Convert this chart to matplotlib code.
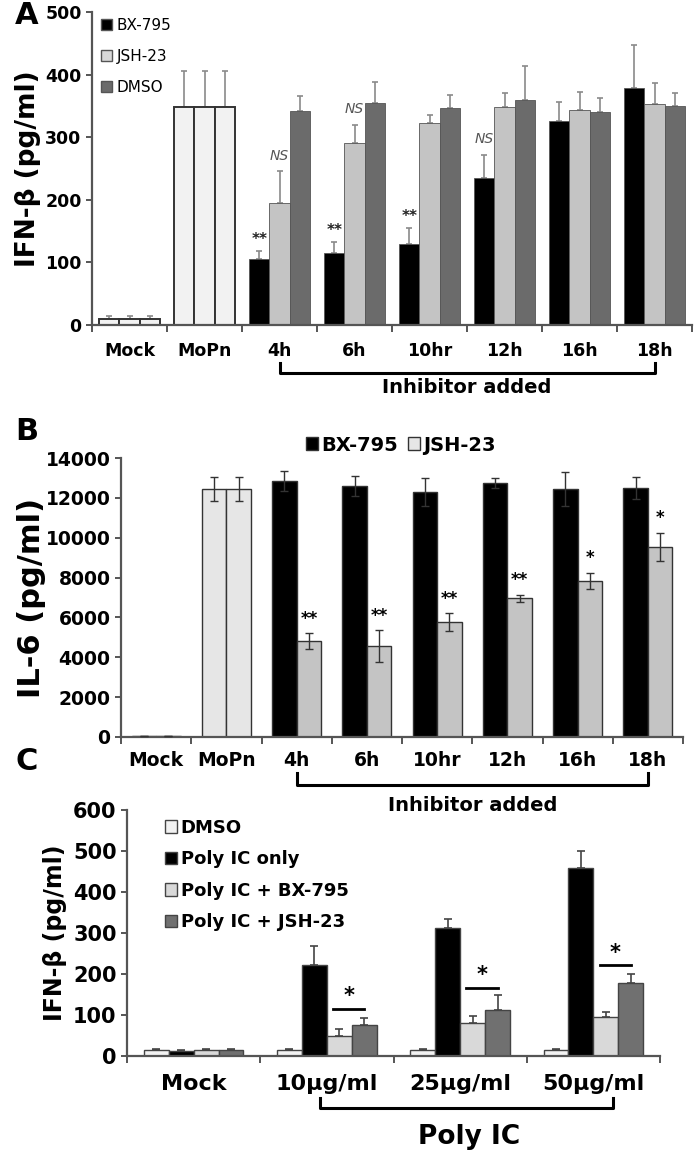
import numpy as np
import matplotlib
matplotlib.use('Agg')
import matplotlib.pyplot as plt
from matplotlib.transforms import blended_transform_factory
from matplotlib.patches import Patch

# ---------------- data ----------------
a_categories = ['Mock', 'MoPn', '4h', '6h', '10hr', '12h', '16h', '18h']
a_bx = [10, 348, 105, 115, 130, 235, 326, 378]
a_bx_err = [5, 57, 13, 17, 25, 37, 31, 69]
a_jsh = [10, 348, 195, 290, 322, 349, 343, 353]
a_jsh_err = [5, 57, 51, 30, 14, 22, 30, 33]
a_dmso = [10, 348, 342, 355, 347, 360, 340, 350]
a_dmso_err = [5, 57, 24, 33, 20, 54, 23, 20]
a_yticks = [0, 100, 200, 300, 400, 500]
a_bx_marks = ['', '', '**', '**', '**', 'NS', '', '']
a_jsh_marks = ['', '', 'NS', 'NS', '', '', '', '']

b_categories = ['Mock', 'MoPn', '4h', '6h', '10hr', '12h', '16h', '18h']
b_bx = [30, 12450, 12850, 12600, 12300, 12750, 12450, 12500]
b_bx_err = [0, 600, 500, 500, 700, 250, 850, 550]
b_jsh = [30, 12450, 4800, 4550, 5750, 6950, 7850, 9550]
b_jsh_err = [0, 600, 400, 800, 450, 200, 400, 700]
b_yticks = [0, 2000, 4000, 6000, 8000, 10000, 12000, 14000]
b_jsh_marks = ['', '', '**', '**', '**', '**', '*', '*']

c_categories = ['Mock', '10μg/ml', '25μg/ml', '50μg/ml']
c_dmso = [15, 15, 15, 15]
c_dmso_err = [3, 3, 3, 3]
c_polyic = [12, 222, 312, 458]
c_polyic_err = [3, 47, 23, 42]
c_bx = [15, 48, 80, 95]
c_bx_err = [3, 17, 18, 12]
c_jsh = [15, 75, 112, 178]
c_jsh_err = [3, 17, 36, 22]
c_sig_levels = [None, 115, 166, 222]
c_yticks = [0, 100, 200, 300, 400, 500, 600]

W, H = 700, 1156
fig = plt.figure(figsize=(W / 100, H / 100), dpi=100)
plt.rcParams['font.family'] = ['DejaVu Sans']


def ax_rect(left, right, top, bottom):
    return [left / W, 1 - bottom / H, (right - left) / W, (bottom - top) / H]


def style_axis(ax, n, xfs, yfs, pad):
    ax.patch.set_visible(False)
    for s in ['top', 'right']:
        ax.spines[s].set_visible(False)
    for s in ['left', 'bottom']:
        ax.spines[s].set_color('#555555')
        ax.spines[s].set_linewidth(1.6)
    ax.set_xlim(-0.5, n - 0.5)
    ax.set_xticks(np.arange(n))
    ax.set_xticks(np.arange(n + 1) - 0.5, minor=True)
    ax.tick_params(axis='x', which='major', length=0, pad=pad, labelsize=xfs)
    ax.tick_params(axis='x', which='minor', length=5, width=1.4, color='#555555', direction='out')
    ax.tick_params(axis='y', length=4, width=1.4, color='#555555', labelsize=yfs)
    for lab in ax.get_xticklabels() + ax.get_yticklabels():
        lab.set_fontweight('bold')


def bracket(ax, x0, x1, ytop, ybot, lw=2.2):
    tr = blended_transform_factory(ax.transData, ax.transAxes)
    ax.plot([x0, x0, x1, x1], [ytop, ybot, ybot, ytop], color='black', lw=lw,
            transform=tr, clip_on=False, solid_joinstyle='round')


# ---------------- Panel A ----------------
axA = fig.add_axes(ax_rect(92, 692, 12, 325))
n = len(a_categories)
x = np.arange(n)
w = 0.27
light = '#f2f2f2'
colsA = [('black', a_bx, a_bx_err), ('#c4c4c4', a_jsh, a_jsh_err), ('#6b6b6b', a_dmso, a_dmso_err)]
for k, (col, vals, errs) in enumerate(colsA):
    xs = x + (k - 1) * w
    fc = [light if i < 2 else col for i in range(n)]
    ec = ['#333333' if i < 2 else '#555555' for i in range(n)]
    lw = [1.4 if i < 2 else 0.6 for i in range(n)]
    axA.bar(xs, vals, w, color=fc, edgecolor=ec, linewidth=lw, zorder=2)
    axA.errorbar(xs, vals, yerr=[np.zeros(n), errs], fmt='none', ecolor='#8a8a8a',
                 elinewidth=1.2, capsize=2.5, capthick=1.2, zorder=1)
for i in range(n):
    if a_bx_marks[i]:
        it = a_bx_marks[i] == 'NS'
        axA.annotate(a_bx_marks[i], (x[i] - w, a_bx[i] + a_bx_err[i]), xytext=(0, 3 if not it else 6),
                     textcoords='offset points', ha='center', va='bottom',
                     fontsize=11 if not it else 10, fontweight='bold' if not it else 'normal',
                     style='italic' if it else 'normal', color='#222222' if not it else '#555555')
    if a_jsh_marks[i]:
        axA.annotate(a_jsh_marks[i], (x[i], a_jsh[i] + a_jsh_err[i]), xytext=(0, 6),
                     textcoords='offset points', ha='center', va='bottom',
                     fontsize=10, style='italic', color='#555555')
axA.set_ylim(0, 500)
axA.set_yticks(a_yticks)
axA.set_xticklabels(a_categories)
style_axis(axA, n, 12.5, 12.5, 12)
axA.set_ylabel('IFN-β (pg/ml)', fontsize=19, fontweight='bold', labelpad=3)
handlesA = [Patch(facecolor='black', edgecolor='#555555', label='BX-795'),
            Patch(facecolor='#d9d9d9', edgecolor='#555555', label='JSH-23'),
            Patch(facecolor='#6b6b6b', edgecolor='#555555', label='DMSO')]
axA.legend(handles=handlesA, loc='upper left', bbox_to_anchor=(0.0, 1.01), frameon=False,
           fontsize=11, handlelength=0.7, handleheight=0.7, handletextpad=0.3, labelspacing=1.05,
           borderaxespad=0.2)
bracket(axA, 2, 7, -0.12, -0.152)
axA.text(4.5, -0.2, 'Inhibitor added', transform=blended_transform_factory(axA.transData, axA.transAxes),
         ha='center', va='center', fontsize=14, fontweight='bold')

# ---------------- Panel B ----------------
axB = fig.add_axes(ax_rect(121, 683, 458, 737))
n = len(b_categories)
x = np.arange(n)
w = 0.35
for k, (col, vals, errs) in enumerate([('black', b_bx, b_bx_err), ('#c4c4c4', b_jsh, b_jsh_err)]):
    xs = x + (k - 0.5) * w
    fc = ['#e6e6e6' if i < 2 else col for i in range(n)]
    axB.bar(xs, vals, w, color=fc, edgecolor='#333333', linewidth=1.0, zorder=2)
    axB.errorbar(xs, vals, yerr=errs, fmt='none', ecolor='#333333',
                 elinewidth=1.0, capsize=3, capthick=1.0, zorder=3)
for i in range(n):
    if b_jsh_marks[i]:
        axB.annotate(b_jsh_marks[i], (x[i] + 0.5 * w, b_jsh[i] + b_jsh_err[i]), xytext=(0, 4),
                     textcoords='offset points', ha='center', va='bottom',
                     fontsize=12, fontweight='bold')
axB.set_ylim(0, 14000)
axB.set_yticks(b_yticks)
axB.set_xticklabels(b_categories)
style_axis(axB, n, 13.5, 13.5, 10)
axB.set_ylabel('IL-6 (pg/ml)', fontsize=22, fontweight='bold', labelpad=0)
handlesB = [Patch(facecolor='black', edgecolor='#333333', label='BX-795'),
            Patch(facecolor='#e6e6e6', edgecolor='#333333', label='JSH-23')]
fig.legend(handles=handlesB, loc='center', bbox_to_anchor=(401 / W, 1 - 445 / H), ncol=2, frameon=False,
           prop={'size': 14, 'weight': 'bold'}, handlelength=0.6, handleheight=0.6, handletextpad=0.2,
           columnspacing=0.5)
bracket(axB, 2, 7, -0.13, -0.172)
axB.text(4.5, -0.245, 'Inhibitor added', transform=blended_transform_factory(axB.transData, axB.transAxes),
         ha='center', va='center', fontsize=14, fontweight='bold', zorder=10)

# ---------------- Panel C ----------------
axC = fig.add_axes(ax_rect(127, 660, 810, 1056))
n = len(c_categories)
x = np.arange(n)
w = 0.187
seriesC = [('#f2f2f2', c_dmso, c_dmso_err, 'DMSO'),
           ('black', c_polyic, c_polyic_err, 'Poly IC only'),
           ('#d9d9d9', c_bx, c_bx_err, 'Poly IC + BX-795'),
           ('#707070', c_jsh, c_jsh_err, 'Poly IC + JSH-23')]
handlesC = []
for k, (col, vals, errs, lab) in enumerate(seriesC):
    xs = x + (k - 1.5) * w
    axC.bar(xs, vals, w, color=col, edgecolor='#444444', linewidth=1.0, zorder=2)
    axC.errorbar(xs, vals, yerr=[np.zeros(n), errs], fmt='none', ecolor='#444444',
                 elinewidth=1.2, capsize=3, capthick=1.2, zorder=1)
    handlesC.append(Patch(facecolor=col, edgecolor='#444444', label=lab))
for i in range(n):
    lvl = c_sig_levels[i]
    if lvl is not None:
        xb = x[i] + 0.5 * w
        xj = x[i] + 1.5 * w
        axC.plot([xb - 0.25 * w, xj], [lvl, lvl], color='black', lw=2)
        axC.text((xb - 0.25 * w + xj) / 2, lvl + 6, '*', ha='center', va='bottom',
                 fontsize=15, fontweight='bold')
axC.set_ylim(0, 600)
axC.set_yticks(c_yticks)
axC.set_xticklabels(c_categories)
style_axis(axC, n, 16, 15, 13)
axC.set_ylabel('IFN-β (pg/ml)', fontsize=17, fontweight='bold', labelpad=4)
axC.legend(handles=handlesC, loc='upper left', bbox_to_anchor=(0.04, 1.03), frameon=False,
           prop={'size': 13, 'weight': 'bold'}, handlelength=0.7, handleheight=0.7,
           handletextpad=0.2, labelspacing=0.75)
bracket(axC, 0.95, 3.15, -0.171, -0.211)
axC.text(2.07, -0.33, 'Poly IC', transform=blended_transform_factory(axC.transData, axC.transAxes),
         ha='center', va='center', fontsize=19, fontweight='bold')

# Panel letters
fig.text(27 / W, 1 - 15 / H, 'A', fontsize=22, fontweight='bold', ha='center', va='center')
fig.text(27 / W, 1 - 432 / H, 'B', fontsize=22, fontweight='bold', ha='center', va='center')
fig.text(27 / W, 1 - 762 / H, 'C', fontsize=22, fontweight='bold', ha='center', va='center')

fig.savefig('out.png', dpi=100)
